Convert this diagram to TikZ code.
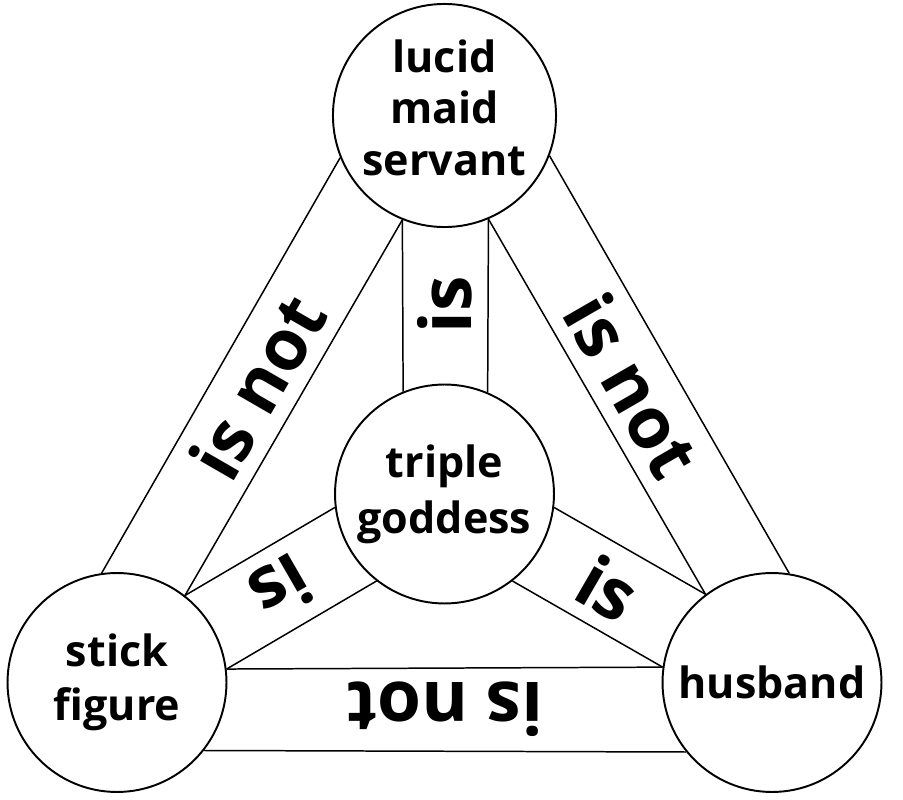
\documentclass[tikz,border=0pt]{standalone}
\usepackage{fontspec}
\setmainfont{Open Sans}
\usetikzlibrary{calc}

\begin{document}
\begin{tikzpicture}[x=0.02cm,y=-0.02cm,
  person/.style={draw,circle,line width=1.1pt,minimum size=4.38cm,inner sep=0pt,
    align=center,font=\bfseries\fontsize{24.5}{29.5}\selectfont},
  band/.style={line width=0.85pt},
  word/.style={inner sep=0pt,font=\bfseries\fontsize{40.5}{40.5}\selectfont}]
\useasboundingbox (0,0) rectangle (903,800);
%\draw[step=50,black!20] (0,0) grid (903,800);

\node[person,text depth=9pt] (maid) at (444.5,115.5) {lucid\\maid\\servant};
\node[person,font=\bfseries\fontsize{24.5}{32}\selectfont] (goddess) at (444.5,494) {triple\\goddess};
\node[person,font=\bfseries\fontsize{24.5}{31}\selectfont] (stick) at (117,682.5) {stick\\figure};
\node[person] (husband) at (772,682.5) {husband};

% spokes
\draw[band] (maid.-112.55) -- (goddess.112.55);
\draw[band] (maid.-67.45) -- (goddess.67.45);
\draw[band] (goddess.187.45) -- (stick.52.55);
\draw[band] (goddess.232.55) -- (stick.7.45);
\draw[band] (goddess.-7.45) -- (husband.127.45);
\draw[band] (goddess.-52.55) -- (husband.172.55);

% outer bands
\draw[band] (maid.-158.26) -- coordinate (lo) (stick.98.26);
\draw[band] (maid.-112.55) -- coordinate (li) (stick.52.55);
\draw[band] (maid.-21.74) -- coordinate (ro) (husband.81.74);
\draw[band] (maid.-67.45) -- coordinate (ri) (husband.127.45);
\draw[band] (stick.-38.26) -- coordinate (bo) (husband.-141.74);
\draw[band] (stick.7.45) -- coordinate (bi) (husband.172.55);

\node[word,rotate=90] (is1) at ($(maid)!0.5!(goddess)$) {is};
\node[word,rotate=210] (is2) at ($(goddess)!0.5!(stick)$) {is};
\node[word,rotate=-30] (is3) at ($(goddess)!0.5!(husband)$) {is};
\node[word,rotate=60] (not1) at ($(lo)!0.5!(li)$) {is not};
\node[word,rotate=-60] (not2) at ($(ro)!0.5!(ri)$) {is not};
\node[word,rotate=180] (not3) at ($(bo)!0.5!(bi)$) {is not};
\end{tikzpicture}
\end{document}
